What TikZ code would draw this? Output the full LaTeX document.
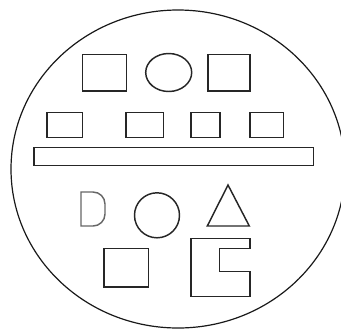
\documentclass[tikz,border=0pt]{standalone}
\begin{document}
\begin{tikzpicture}[x=0.75pt,y=-0.75pt,
  figline/.style={draw=black!85,line width=1.1pt,line join=miter},
  outline/.style={draw=black!90,line width=0.9pt}]
\useasboundingbox (0,0) rectangle (341,329);
% outer ellipse
\draw[outline] (178,169) ellipse [x radius=167,y radius=159];
% top row
\draw[figline] (82.3,54.3) rectangle (126.3,91);
\draw[figline] (168.7,72.5) ellipse [x radius=23,y radius=19];
\draw[figline] (208,54.3) rectangle (250,91);
% second row
\draw[figline] (47,112.7) rectangle (82.7,137.3);
\draw[figline] (126,112.7) rectangle (163.3,137.3);
\draw[figline] (191,112.7) rectangle (220,137.3);
\draw[figline] (250,112.7) rectangle (283.7,137.3);
% long bar
\draw[figline] (34,147.3) rectangle (313.3,165.7);
% D shape
\draw[figline,draw=black!60] (81,192) -- (93,192) arc[start angle=-90,end angle=0,radius=12] -- (105,214) arc[start angle=0,end angle=90,radius=12] -- (81,226) -- cycle;
% circle
\draw[figline] (157,215.3) circle [radius=22.5];
% triangle
\draw[figline] (228,185) -- (249.3,226) -- (207.3,226) -- cycle;
% square
\draw[figline] (104,248.3) rectangle (148.3,287);
% C shape
\draw[figline] (191,238.3) -- (250,238.3) -- (250,248.3) -- (219.3,248.3) -- (219.3,271.7) -- (250,271.7) -- (250,296.7) -- (191,296.7) -- cycle;
\end{tikzpicture}
\end{document}
